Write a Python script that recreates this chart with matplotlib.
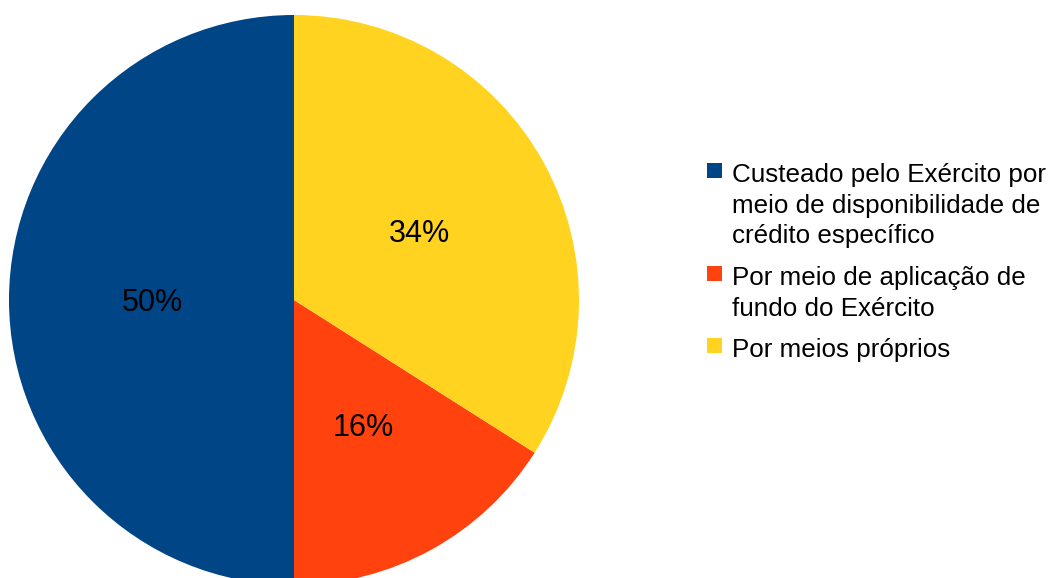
import matplotlib
matplotlib.use("Agg")
import matplotlib.pyplot as plt
from matplotlib.patches import Rectangle
from matplotlib.transforms import offset_copy

plt.rcParams['font.family'] = ['Liberation Sans', 'DejaVu Sans']

categories = [
    "Custeado pelo Exército por\nmeio de disponibilidade de\ncrédito específico",
    "Por meio de aplicação de\nfundo do Exército",
    "Por meios próprios",
]
shares = [50, 16, 34]
colors = ["#004586", "#FF420E", "#FFD320"]

W, H = 1057, 578
fig = plt.figure(figsize=(W / 100, H / 100), dpi=100)
fig.patch.set_facecolor("white")

# pie axes: centre (294, 300) px, radius 285 px
cx, cy, r = 294, 300, 285
ax = fig.add_axes([(cx - r) / W, (H - cy - r) / H, 2 * r / W, 2 * r / H])
wedges, texts, autotexts = ax.pie(
    shares, colors=colors, startangle=90, counterclock=True,
    autopct="%.0f%%", pctdistance=0.5, radius=1,
    wedgeprops=dict(linewidth=0),
    textprops=dict(fontsize=22, color="black"),
)
ax.set_xlim(-1, 1)
ax.set_ylim(-1, 1)
ax.set_aspect("equal")
ax.axis("off")

# centre the visible glyphs (no descenders) on the label point
for t in autotexts:
    t.set_transform(offset_copy(ax.transData, fig=fig, x=0.5, y=-3, units="dots"))

# legend drawn in figure pixels
sq = 15
text_x = 732
first_baselines = [182, 285, 357]
line_step = 30.5
for label, color, base in zip(categories, colors, first_baselines):
    fig.add_artist(Rectangle(((707) / W, (H - base + 4) / H), sq / W, sq / H,
                             transform=fig.transFigure, facecolor=color,
                             edgecolor="none"))
    for i, line in enumerate(label.split("\n")):
        fig.text(text_x / W, (H - base - i * line_step) / H, line,
                 fontsize=18.7, va="baseline", ha="left", color="black")

fig.savefig("out.png", dpi=100)
